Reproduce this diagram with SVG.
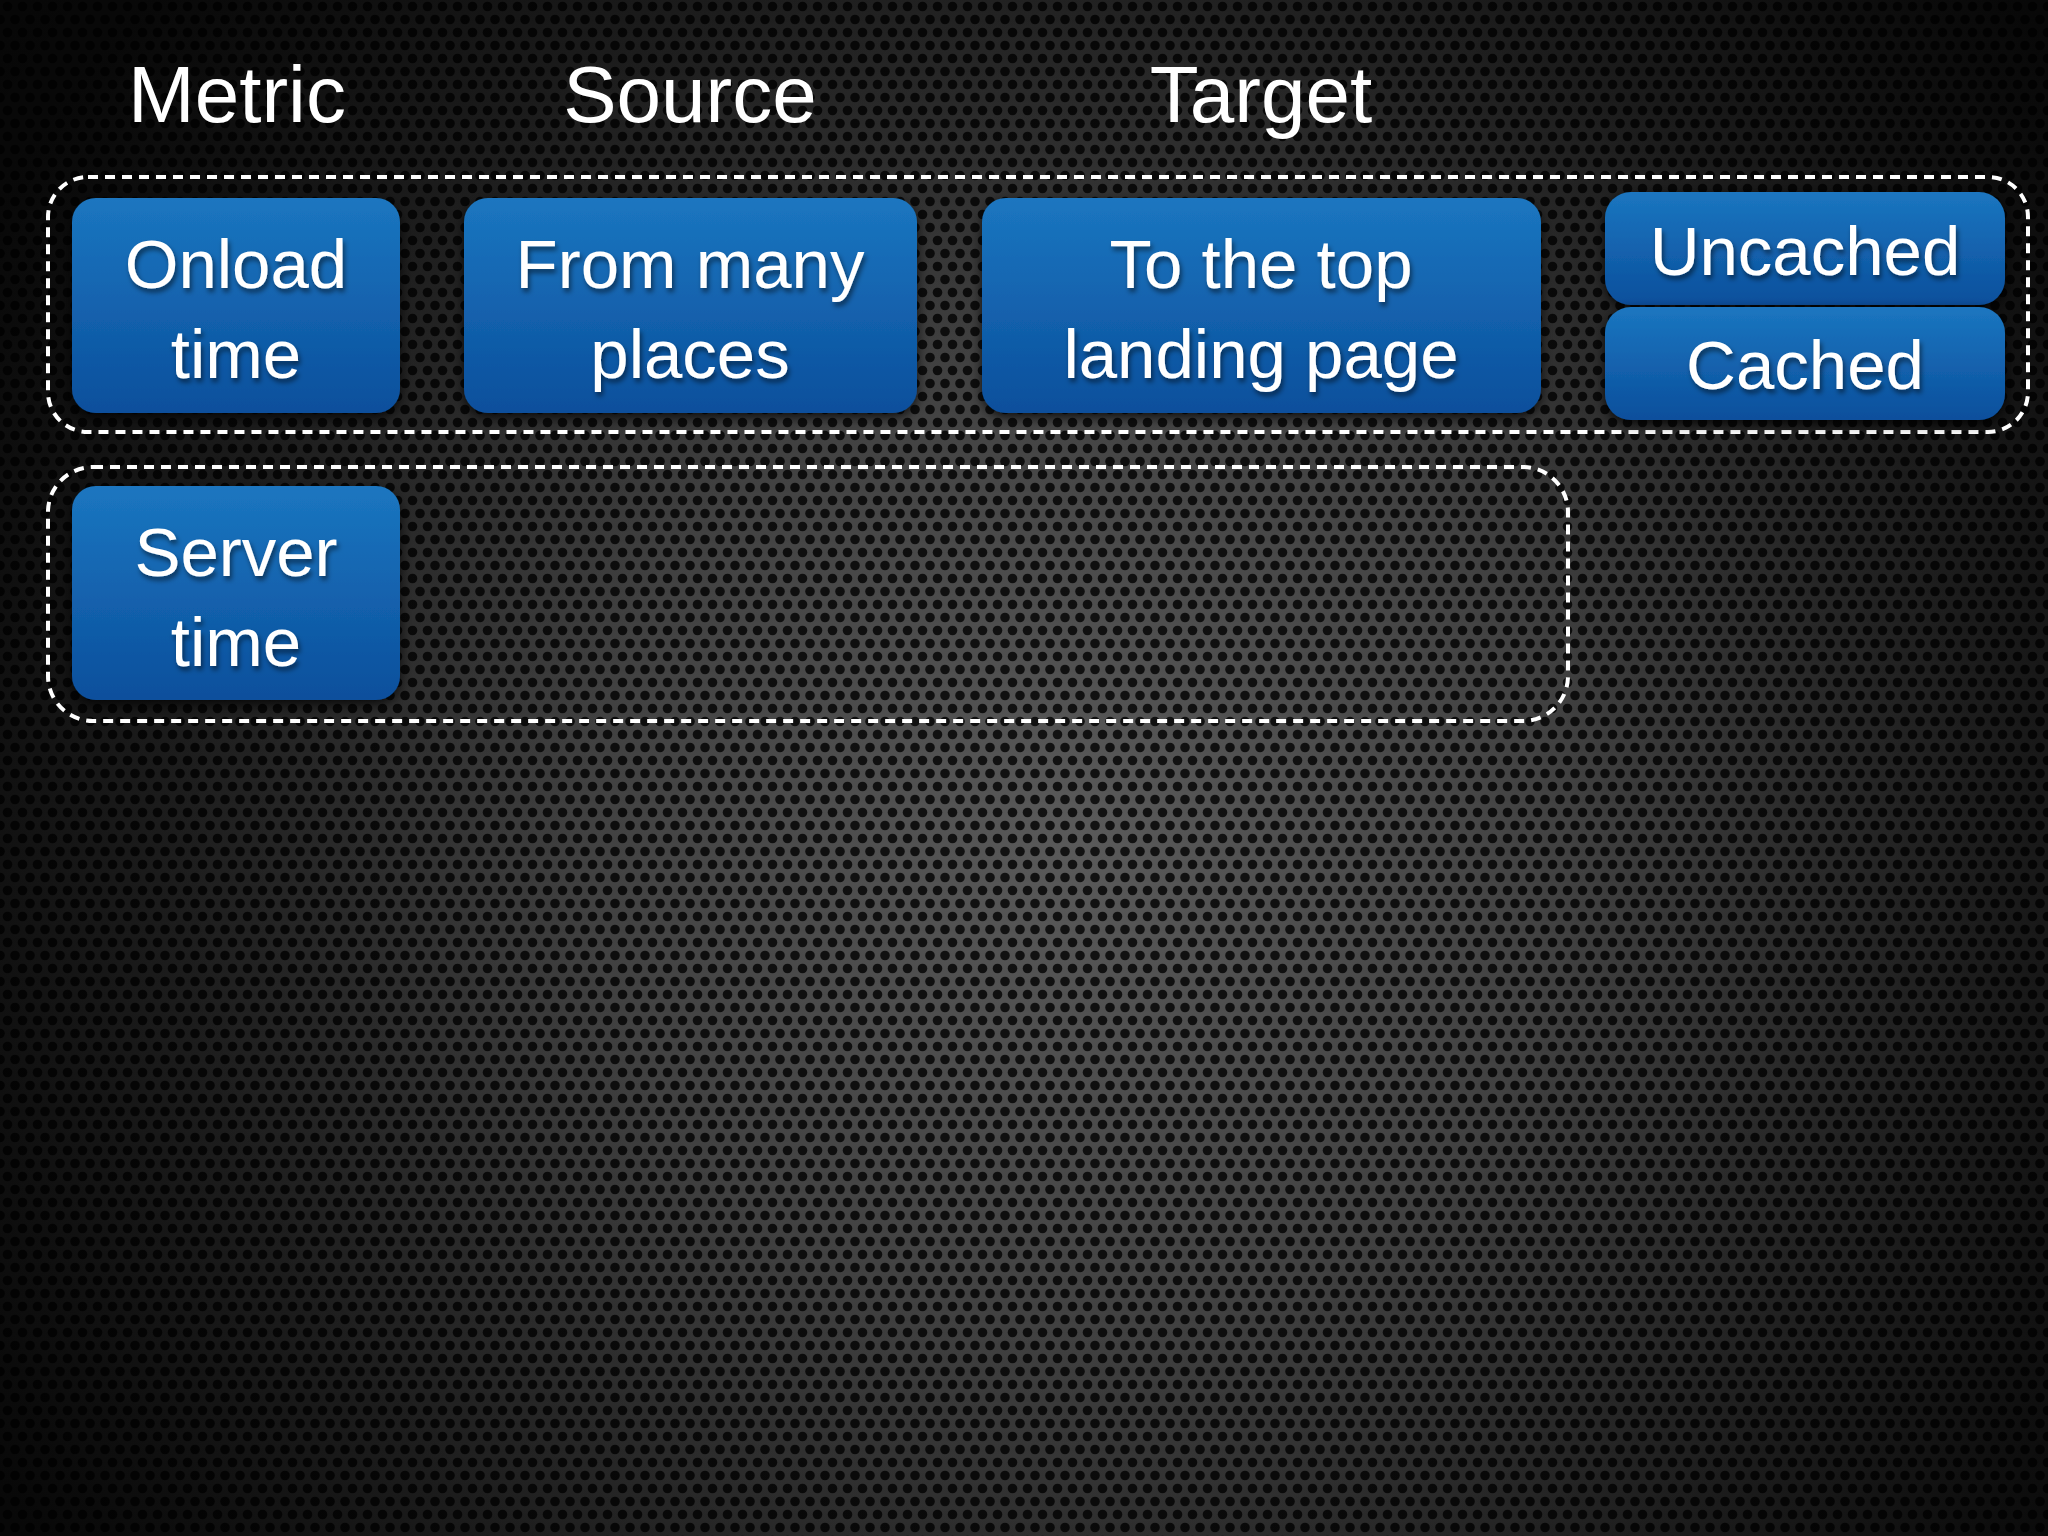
<svg xmlns="http://www.w3.org/2000/svg" width="2048" height="1536" viewBox="0 0 2048 1536">
  <defs>
    <radialGradient id="bg" cx="1080" cy="840" r="1250" gradientUnits="userSpaceOnUse">
      <stop offset="0" stop-color="#5a5a5a"/>
      <stop offset="0.5" stop-color="#3a3a3a"/>
      <stop offset="1" stop-color="#121212"/>
    </radialGradient>
    <pattern id="holes" width="15" height="26" patternUnits="userSpaceOnUse">
      <circle cx="7.5" cy="6.5" r="4.8" fill="#000"/>
      <circle cx="0" cy="19.5" r="4.8" fill="#000"/>
      <circle cx="15" cy="19.5" r="4.8" fill="#000"/>
    </pattern>
    <radialGradient id="vignette" cx="1080" cy="840" r="1400" gradientUnits="userSpaceOnUse">
      <stop offset="0.35" stop-color="#000" stop-opacity="0"/>
      <stop offset="1" stop-color="#000" stop-opacity="0.65"/>
    </radialGradient>
    <linearGradient id="blue" x1="0" y1="0" x2="0" y2="1">
      <stop offset="0" stop-color="#1b76c0"/>
      <stop offset="1" stop-color="#0b4f9c"/>
    </linearGradient>
    <filter id="boxShadow" x="-20%" y="-20%" width="140%" height="150%">
      <feDropShadow dx="0" dy="4" stdDeviation="6" flood-color="#000" flood-opacity="0.8"/>
    </filter>
    <filter id="textShadow" x="-10%" y="-20%" width="130%" height="150%">
      <feDropShadow dx="2" dy="4" stdDeviation="2.5" flood-color="#000" flood-opacity="0.5"/>
    </filter>
    <style>
      .title { font-family: "Liberation Sans", Arial, sans-serif; font-size: 80px; fill: #ffffff; text-anchor: middle; }
      .label { font-family: "Liberation Sans", Arial, sans-serif; font-size: 69px; fill: #ffffff; text-anchor: middle; filter: url(#textShadow); }
      .node { fill: url(#blue); filter: url(#boxShadow); }
      .group { fill: none; stroke: #ffffff; stroke-width: 4; stroke-dasharray: 10 7; }
    </style>
  </defs>

  <g id="background">
    <rect x="0" y="0" width="2048" height="1536" fill="url(#bg)"/>
    <rect x="0" y="0" width="2048" height="1536" fill="url(#holes)" opacity="0.8"/>
    <rect x="0" y="0" width="2048" height="1536" fill="url(#vignette)"/>
  </g>

  <g id="headers">
    <text class="title" x="237" y="122">Metric</text>
    <text class="title" x="690" y="122">Source</text>
    <text class="title" x="1261" y="122">Target</text>
  </g>

  <g id="groups">
    <rect id="group-onload" class="group" x="48" y="177" width="1980" height="255" rx="40" ry="40"/>
    <rect id="group-server" class="group" x="48" y="467" width="1520" height="254" rx="45" ry="45"/>
  </g>

  <g id="connectors"></g>

  <g id="node-onload">
    <rect class="node" x="72" y="198" width="328" height="215" rx="24" ry="24"/>
    <text class="label" x="236" y="288">Onload</text>
    <text class="label" x="236" y="378">time</text>
  </g>
  <g id="node-source">
    <rect class="node" x="464" y="198" width="453" height="215" rx="24" ry="24"/>
    <text class="label" x="690" y="288">From many</text>
    <text class="label" x="690" y="378">places</text>
  </g>
  <g id="node-target">
    <rect class="node" x="982" y="198" width="559" height="215" rx="24" ry="24"/>
    <text class="label" x="1261" y="288">To the top</text>
    <text class="label" x="1261" y="378">landing page</text>
  </g>
  <g id="node-uncached">
    <rect class="node" x="1605" y="192" width="400" height="113" rx="26" ry="26"/>
    <text class="label" x="1805" y="275">Uncached</text>
  </g>
  <g id="node-cached">
    <rect class="node" x="1605" y="307" width="400" height="113" rx="26" ry="26"/>
    <text class="label" x="1805" y="389">Cached</text>
  </g>
  <g id="node-server">
    <rect class="node" x="72" y="486" width="328" height="214" rx="24" ry="24"/>
    <text class="label" x="236" y="576">Server</text>
    <text class="label" x="236" y="666">time</text>
  </g>
</svg>
